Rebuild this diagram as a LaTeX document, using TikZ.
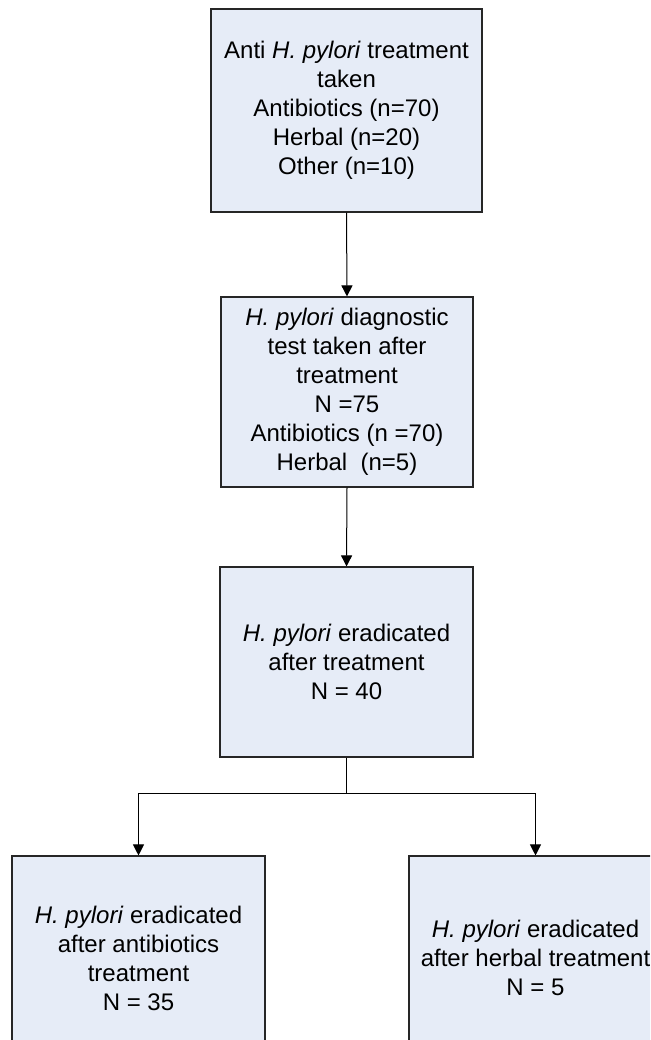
\documentclass[tikz,border=0pt]{standalone}
\usepackage{fontspec}
\setmainfont{Liberation Sans}
\usetikzlibrary{arrows.meta}
\definecolor{boxfill}{HTML}{E6ECF7}
\begin{document}
\begin{tikzpicture}[x=1pt,y=-1pt,
  flowbox/.style={draw=black!85, line width=1.1pt, fill=boxfill, align=center,
    inner sep=0pt, font=\fontsize{24}{29}\selectfont},
  arr/.style={draw=black, line width=1pt, -{Triangle[length=11pt,width=11pt]}},
  plainline/.style={draw=black, line width=1pt}]
\clip (0,0) rectangle (650,1040);
\fill[white] (0,0) rectangle (650,1040);
\node[flowbox, minimum width=271pt, minimum height=203pt] (b1) at (346.5,110.5)
  {Anti \textit{H. pylori} treatment\\ taken\\ Antibiotics (n=70)\\ Herbal (n=20)\\ Other (n=10)};
\node[flowbox, minimum width=252pt, minimum height=190pt] (b2) at (347,392)
  {\textit{H. pylori} diagnostic\\ test taken after\\ treatment\\ N =75\\ Antibiotics (n =70)\\ Herbal\ \ (n=5)};
\node[flowbox, minimum width=253pt, minimum height=190pt] (b3) at (346.5,662)
  {\textit{H. pylori} eradicated\\ after treatment\\ N = 40};
\node[flowbox, minimum width=253pt, minimum height=204pt] (b4) at (138.5,958)
  {\textit{H. pylori} eradicated\\ after antibiotics\\ treatment\\ N = 35};
\node[flowbox, minimum width=253pt, minimum height=204pt] (b5) at (535.5,958)
  {\textit{H. pylori} eradicated\\ after herbal treatment\\ N = 5};
\draw[arr] (b1.south) -- (b2.north);
\draw[arr] (b2.south) -- (b3.north);
\draw[plainline] (b3.south) -- ++(0,36) coordinate (j);
\draw[arr] (j) -| (b4.north);
\draw[arr] (j) -| (b5.north);
\end{tikzpicture}
\end{document}
